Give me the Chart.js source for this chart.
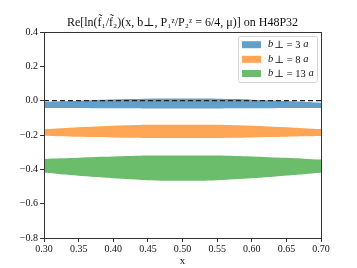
<!DOCTYPE html>
<html>
<head>
<meta charset="utf-8">
<script src="https://cdn.jsdelivr.net/npm/chart.js@4.4.1/dist/chart.umd.min.js"></script>
<style>
html,body{margin:0;padding:0;background:#fff;}
#wrap{width:357px;height:268px;}
</style>
</head>
<body>
<div id="wrap"><canvas id="c" width="357" height="268"></canvas></div>
<script>
const xs = [0.300,0.325,0.350,0.375,0.400,0.425,0.450,0.475,0.500,0.525,0.550,0.575,0.600,0.625,0.650,0.675,0.700];
const blueUpper = [-0.008,-0.004,0.000,0.004,0.007,0.009,0.011,0.012,0.012,0.012,0.011,0.009,0.006,0.002,-0.002,-0.007,-0.012];
const blueLower = [-0.042,-0.043,-0.043,-0.044,-0.044,-0.044,-0.045,-0.045,-0.045,-0.045,-0.045,-0.044,-0.044,-0.044,-0.043,-0.043,-0.043];
const orangeUpper = [-0.165,-0.160,-0.155,-0.150,-0.146,-0.143,-0.141,-0.140,-0.140,-0.140,-0.141,-0.143,-0.146,-0.150,-0.155,-0.160,-0.165];
const orangeLower = [-0.204,-0.207,-0.210,-0.212,-0.214,-0.216,-0.217,-0.218,-0.218,-0.218,-0.217,-0.216,-0.214,-0.212,-0.210,-0.208,-0.206];
const greenUpper = [-0.340,-0.336,-0.332,-0.328,-0.325,-0.322,-0.320,-0.319,-0.319,-0.319,-0.320,-0.322,-0.325,-0.329,-0.333,-0.338,-0.343];
const greenLower = [-0.418,-0.428,-0.437,-0.445,-0.452,-0.458,-0.463,-0.466,-0.467,-0.466,-0.463,-0.458,-0.452,-0.445,-0.436,-0.428,-0.420];
const bandLabels = ["3", "8", "13"];
const zeroLineX = [0.30, 0.70];
const zeroLineY = [0, 0];
const xTicks = [0.30,0.35,0.40,0.45,0.50,0.55,0.60,0.65,0.70];
const yTicks = [-0.8,-0.6,-0.4,-0.2,0.0,0.2,0.4];
const titleText = "Re[ln(f\u0303\u2081/f\u0303\u2082)(x, b\u22A5, P\u2081\u1DBB/P\u2082\u1DBB = 6/4, \u03BC)] on H48P32";

const colors = ["rgba(31,119,180,0.7)", "rgba(255,127,14,0.7)", "rgba(44,160,44,0.7)"];
const SERIF = "'Liberation Serif', 'DejaVu Serif', serif";

function pts(ys){ return xs.map((x,i)=>({x:x,y:ys[i]})); }

const bands = [[blueUpper, blueLower],[orangeUpper, orangeLower],[greenUpper, greenLower]];
const datasets = [{
  label: 'zero',
  data: zeroLineX.map((x,i)=>({x:x,y:zeroLineY[i]})),
  borderColor: '#222',
  borderWidth: 1.4,
  borderDash: [5,3],
  pointRadius: 0,
  fill: false,
  order: -1
}];
bands.forEach((b,k)=>{
  datasets.push({label:'u'+k, data: pts(b[0]), borderWidth:0, borderColor:'rgba(0,0,0,0)', pointRadius:0, fill:false, tension:0.4});
  datasets.push({label:'l'+k, data: pts(b[1]), borderWidth:0, borderColor:'rgba(0,0,0,0)', backgroundColor: colors[k], pointRadius:0, fill:'-1', tension:0.4});
});

const framePlugin = {
  id:'frame',
  afterDraw(chart){
    const ctx = chart.ctx, a = chart.chartArea;
    ctx.save();
    ctx.strokeStyle = '#333';
    ctx.lineWidth = 1;
    ctx.strokeRect(Math.round(a.left)+0.5, Math.round(a.top)+0.5, Math.round(a.right-a.left), Math.round(a.bottom-a.top));
    // legend
    const L = 238, T = 36, W = 79, H = 46;
    ctx.fillStyle = 'rgba(255,255,255,0.8)';
    ctx.strokeStyle = '#d6d6d6';
    ctx.lineWidth = 1;
    ctx.beginPath();
    if (ctx.roundRect) ctx.roundRect(L+0.5, T+0.5, W, H, 2); else ctx.rect(L+0.5,T+0.5,W,H);
    ctx.fill(); ctx.stroke();
    const rows = [44.7, 59.3, 73.5];
    bandLabels.forEach((lab,i)=>{
      const cy = rows[i];
      ctx.fillStyle = colors[i];
      ctx.fillRect(242, cy-3.5, 19, 7);
      ctx.fillStyle = '#111';
      ctx.textBaseline = 'middle';
      ctx.textAlign = 'left';
      let x = 268;
      ctx.font = 'italic 10.5px ' + SERIF;
      ctx.fillText('b', x, cy); x += ctx.measureText('b').width + 1;
      ctx.font = '10.5px ' + SERIF;
      const mid = '\u22A5 = ' + lab + ' ';
      ctx.fillText(mid, x, cy+1); x += ctx.measureText(mid).width;
      ctx.font = 'italic 10.5px ' + SERIF;
      ctx.fillText('a', x, cy);
    });
    ctx.restore();
  }
};

new Chart(document.getElementById('c'), {
  type: 'line',
  data: { datasets: datasets },
  options: {
    responsive: false,
    animation: false,
    devicePixelRatio: 1,
    layout: { padding: { left: 0, right: 36, top: 0, bottom: 0 } },
    plugins: {
      legend: { display: false },
      tooltip: { enabled: false },
      title: {
        display: true,
        fullSize: false,
        text: titleText,
        color: '#111',
        font: { family: SERIF, size: 12, weight: 'normal', lineHeight: 1.2 },
        padding: { top: 15.6, bottom: 2 }
      }
    },
    scales: {
      x: {
        type: 'linear',
        min: 0.30, max: 0.70,
        afterFit(s){ s.height = 30; },
        afterBuildTicks(s){ s.ticks = xTicks.map(v=>({value:v})); },
        ticks: { callback: v => Number(v).toFixed(2), color:'#111', font:{family:SERIF, size:10}, padding: 1, maxRotation:0, autoSkip:false },
        grid: { display: true, drawOnChartArea: false, drawTicks: true, tickLength: 4, color: '#333' },
        border: { display: true, color: '#333' },
        title: { display: true, text: 'x', color:'#111', font:{family:SERIF, size:11}, padding: {top: 0, bottom: 0} }
      },
      y: {
        type: 'linear',
        min: -0.8, max: 0.4,
        afterFit(s){ s.width = 44; },
        afterBuildTicks(s){ s.ticks = yTicks.map(v=>({value:v})); },
        ticks: { callback: v => { const t = Math.abs(v) < 1e-9 ? '0.0' : Number(v).toFixed(1); return t.replace('-', '\u2212'); }, color:'#111', font:{family:SERIF, size:10}, padding: 2, autoSkip:false },
        grid: { display: true, drawOnChartArea: false, drawTicks: true, tickLength: 4, color: '#333' },
        border: { display: true, color: '#333' }
      }
    }
  },
  plugins: [framePlugin]
});
</script>
</body>
</html>
